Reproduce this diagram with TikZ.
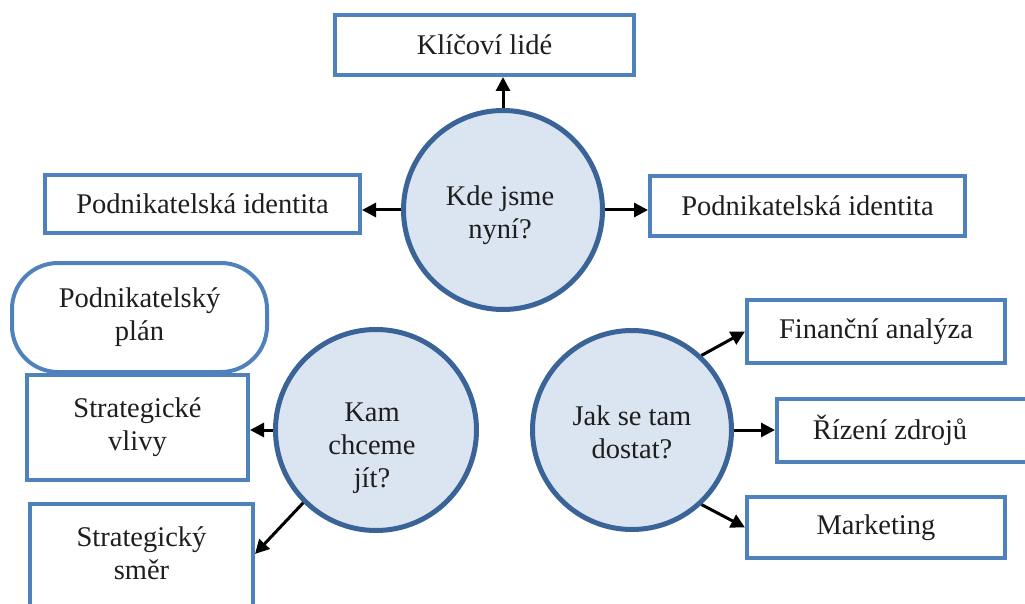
\documentclass[tikz,border=0pt]{standalone}
\usepackage{fontspec}
\setmainfont{Liberation Serif}
\usetikzlibrary{arrows.meta,calc}
\definecolor{boxblue}{HTML}{4F81BD}
\definecolor{ringblue}{HTML}{3A6397}
\definecolor{discfill}{HTML}{DBE5F1}
\definecolor{inkgray}{HTML}{1E1E1E}
\tikzset{
  box/.style={draw=boxblue, line width=4pt, fill=white, rectangle,
    inner sep=0pt, align=center, text=inkgray},
  disc/.style={draw=ringblue, line width=5pt, fill=discfill, circle,
    inner sep=0pt},
  txt/.style={align=center, text=inkgray, inner sep=0pt},
  link/.style={draw=black, line width=3pt, -{Triangle[length=14pt,width=14pt]}}
}
\begin{document}
\begin{tikzpicture}[x=1pt, y=-1pt]
\useasboundingbox (0,0) rectangle (1025,604);
\clip (0,0) rectangle (1025,604);
\tikzset{every node/.style={font=\rmfamily\fontsize{28.5}{33}\selectfont}}

% central questions
\node[disc, minimum size=199pt] (kde) at (503,210) {};
\node[txt] (kdet) at (500,215) {Kde jsme\\nyní?};
\node[disc, minimum size=201pt] (kam) at (376,430) {};
\node[txt] (kamt) at (372,448) {Kam\\chceme\\jít?};
\node[disc, minimum size=199pt] (jak) at (632,430) {};
\node[txt] (jakt) at (632,432) {Jak se tam\\dostat?};

% boxes around "Kde jsme nyní?"
\node[box, minimum width=299pt, minimum height=60pt] (kl) at (484.5,45) {Klíčoví lidé};
\node[box, minimum width=315pt, minimum height=58pt] (pil) at (202.5,204) {Podnikatelská identita};
\node[box, minimum width=315pt, minimum height=60pt] (pir) at (807.5,206) {Podnikatelská identita};

% boxes on the left
\node[box, rounded corners=46pt, minimum width=255pt, minimum height=109pt] (plan) at (139.5,317.5) {Podnikatelský\\plán};
\node[box, minimum width=221pt, minimum height=105pt] (vliv) at (137.5,427.5) {Strategické\\vlivy};
\node[box, minimum width=223pt, minimum height=108pt] (smer) at (141.5,558) {};
\node[txt] (smert) at (141.5,553) {Strategický\\směr};

% boxes on the right
\node[box, minimum width=258pt, minimum height=63pt] (fin) at (876,331.5) {Finanční analýza};
\node[box, minimum width=262pt, minimum height=63pt] (rz) at (908,430) {};
\node[txt] (rzt) at (890,430) {Řízení zdrojů};
\node[box, minimum width=258pt, minimum height=61pt] (mkt) at (876,527.5) {Marketing};

% connectors
\draw[link] (kde.north) -- (kde.north |- kl.south);
\draw[link] (kde.west) -- (kde.west -| pil.east);
\draw[link] (kde.east) -- (kde.east -| pir.west);
\draw[link] (kam.west) -- (kam.west -| vliv.east);
\draw[link] (kam.225) -- ($(smer.east)+(0,-4)$);
\draw[link] (jak.47) -- (fin.west);
\draw[link] (jak.east) -- (rz.west);
\draw[link] (jak.-47) -- (mkt.west);
\end{tikzpicture}
\end{document}
